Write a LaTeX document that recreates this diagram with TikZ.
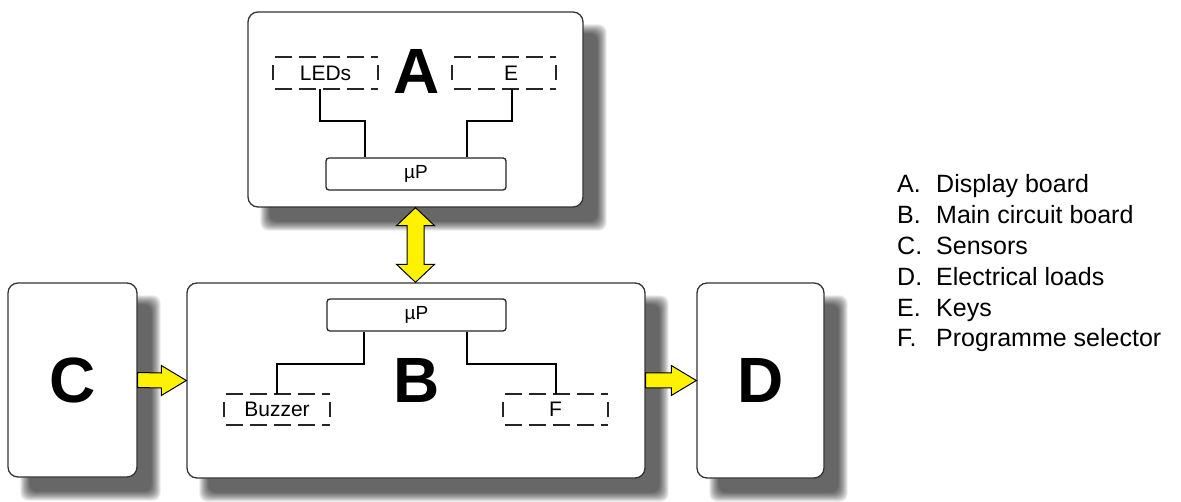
\documentclass[tikz,border=0pt]{standalone}
\usepackage{fontspec}
\setmainfont{Liberation Sans}
\usetikzlibrary{calc,backgrounds}
\begin{document}
\begin{tikzpicture}[x=1pt,y=-1pt,
  board/.style={draw=black!80, line width=1.3pt, fill=white, rounded corners=10pt, inner sep=0pt},
  chip/.style={draw=black!85, line width=1.3pt, fill=white, rounded corners=3pt, inner sep=0pt, font=\fontsize{19}{19}\selectfont},
  slot/.style={inner sep=0pt, font=\fontsize{21}{21}\selectfont},
  dashedge/.style={line width=1.5pt, dash pattern=on 17pt off 7pt, black!85},
  sideedge/.style={line width=1.5pt, black!85},
  wire/.style={line width=2pt, black},
  bigletter/.style={font=\fontsize{64}{64}\selectfont\bfseries},
  yarrow/.style={fill=yellow, draw=black, line width=1pt, line join=miter},
  legend/.style={anchor=base west, inner sep=0pt, font=\fontsize{25}{30}\selectfont},
  shadowfill/.style={black, opacity=0.085, rounded corners=8pt}]
\useasboundingbox (0,0) rectangle (1181,502);

% boards
\node[board, minimum width=335pt, minimum height=195pt] (A) at (415.5,109.5) {};
\node[board, minimum width=458pt, minimum height=195pt] (B) at (416,380.5) {};
\node[board, minimum width=129pt, minimum height=194pt, bigletter] (C) at (72.5,380) {C};
\node[board, minimum width=127pt, minimum height=195pt, bigletter] (D) at (760.5,380.5) {D};

% shadows
\begin{scope}[on background layer]
\foreach \n in {A,B,C,D} {
  \foreach \e in {5,4,...,-4} {
    \fill[shadowfill] ($(\n.north west)+(18-\e,18-\e)$) rectangle ($(\n.south east)+(18+\e,18+\e)$);
  }
}
\end{scope}

% big letters
\node[bigletter, inner sep=0pt] (la) at (417,71) {A};
\node[bigletter, inner sep=0pt] (lb) at (417,380) {B};

% microprocessors
\node[chip, minimum width=180pt, minimum height=32pt] (upA) at (416,174) {µP};
\node[chip, minimum width=179pt, minimum height=32pt] (upB) at (416.5,315) {µP};

% dashed slots
\node[slot, minimum width=105pt, minimum height=32pt] (leds) at (325.5,73) {LEDs};
\node[slot, minimum width=104pt, minimum height=32pt] (keys) at (504,73) {\hspace*{14pt}E};
\node[slot, minimum width=106pt, minimum height=31pt] (buzz) at (277,409.5) {Buzzer};
\node[slot, minimum width=105pt, minimum height=31pt] (sel) at (555.5,409.5) {F};

\foreach \n in {leds,keys,buzz,sel} {
  \draw[dashedge] ($(\n.north west)+(2,0)$) -- (\n.north east);
  \draw[dashedge] ($(\n.south west)+(2,0)$) -- (\n.south east);
  \draw[sideedge] ($(\n.west)+(0,-7.5)$) -- ($(\n.west)+(0,7.5)$);
  \draw[sideedge] ($(\n.east)+(0,-7.5)$) -- ($(\n.east)+(0,7.5)$);
}

% wires
\draw[wire] ($(leds.south)+(-5.5,0)$) |- ($(upA.north)+(-51,-36)$) -- ($(upA.north)+(-51,0)$);
\draw[wire] ($(keys.south)+(8,0)$) |- ($(upA.north)+(51,-36)$) -- ($(upA.north)+(51,0)$);
\draw[wire] ($(upB.south)+(-52.5,0)$) |- ($(buzz.north)+(0,-30)$) -- (buzz.north);
\draw[wire] ($(upB.south)+(50.5,0)$) |- ($(sel.north)+(0,-30)$) -- (sel.north);

% yellow arrows
\draw[yarrow] ($(C.east)+(0,-7.5)$) -- ($(B.west)+(-25,-7.5)$) -- ($(B.west)+(-25,-15)$) -- (B.west)
  -- ($(B.west)+(-25,15)$) -- ($(B.west)+(-25,7.5)$) -- ($(C.east)+(0,7.5)$) -- cycle;
\draw[yarrow] ($(B.east)+(0,-7.5)$) -- ($(D.west)+(-25,-7.5)$) -- ($(D.west)+(-25,-15)$) -- (D.west)
  -- ($(D.west)+(-25,15)$) -- ($(D.west)+(-25,7.5)$) -- ($(B.east)+(0,7.5)$) -- cycle;
\coordinate (t) at (A.south);
\coordinate (b) at (A.south |- B.north);
\draw[yarrow] (t) -- ($(t)+(19,18)$) -- ($(t)+(8.5,18)$) -- ($(b)+(8.5,-18)$) -- ($(b)+(19,-18)$) -- (b)
  -- ($(b)+(-19,-18)$) -- ($(b)+(-8.5,-18)$) -- ($(t)+(-8.5,18)$) -- ($(t)+(-19,18)$) -- cycle;

% legend
\foreach \l/\t [count=\i from 0] in {A/Display board, B/Main circuit board, C/Sensors, D/Electrical loads, E/Keys, F/Programme selector} {
  \node[legend] (k\i) at (897,{193+30.8*\i}) {\l.};
  \node[legend] (v\i) at (936,{193+30.8*\i}) {\t};
}
\end{tikzpicture}
\end{document}
